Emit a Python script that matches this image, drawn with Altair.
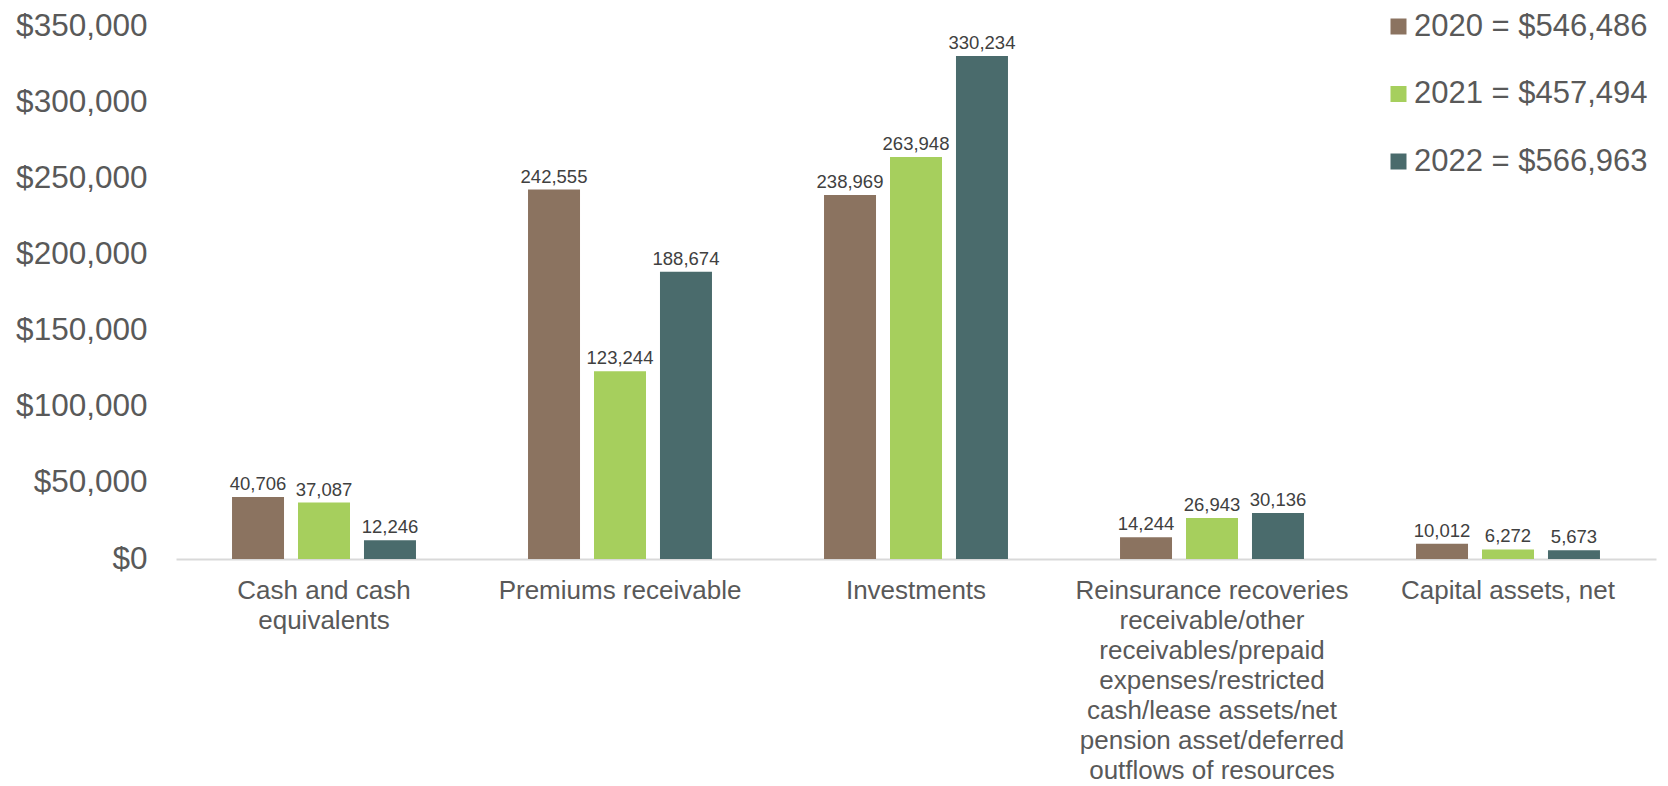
import altair as alt
import pandas as pd

categories = [
    "Cash and cash|equivalents",
    "Premiums receivable",
    "Investments",
    "Reinsurance recoveries|receivable/other|receivables/prepaid|expenses/restricted|cash/lease assets/net|pension asset/deferred|outflows of resources",
    "Capital assets, net",
]
years = ["2020", "2021", "2022"]
v2020 = [40706, 242555, 238969, 14244, 10012]
v2021 = [37087, 123244, 263948, 26943, 6272]
v2022 = [12246, 188674, 330234, 30136, 5673]
colors = ["#8B7360", "#A6CF5D", "#4A6B6C"]

series_values = [v2020, v2021, v2022]
series_labels = [f"{y} = ${sum(v):,}" for y, v in zip(years, series_values)]

rows = []
for lab, vals in zip(series_labels, series_values):
    for c, v in zip(categories, vals):
        rows.append({"category": c, "series": lab, "value": v})
df = pd.DataFrame(rows)

FONT = "Liberation Sans"

base = alt.Chart(df).encode(
    x=alt.X(
        "category:N",
        sort=categories,
        scale=alt.Scale(paddingInner=0, paddingOuter=0),
        axis=alt.Axis(
            title=None,
            labelAngle=0,
            labelExpr="split(datum.label, '|')",
            labelFontSize=26,
            labelLineHeight=30,
            labelPadding=18,
            labelLimit=0,
            labelColor="#595959",
            labelFont=FONT,
            ticks=False,
            grid=False,
            domainColor="#d9d9d9",
            domainWidth=2,
        ),
    ),
    xOffset=alt.XOffset(
        "series:N",
        sort=series_labels,
        scale=alt.Scale(paddingInner=0.212, paddingOuter=0.849),
    ),
    y=alt.Y(
        "value:Q",
        scale=alt.Scale(domain=[0, 350000], nice=False),
        axis=alt.Axis(
            title=None,
            values=[0, 50000, 100000, 150000, 200000, 250000, 300000, 350000],
            format="$,.0f",
            labelFontSize=31.5,
            labelColor="#595959",
            labelFont=FONT,
            labelPadding=29,
            grid=False,
            domain=False,
            ticks=False,
        ),
    ),
)

bars = base.mark_bar().encode(
    color=alt.Color(
        "series:N",
        sort=series_labels,
        scale=alt.Scale(domain=series_labels, range=colors),
        legend=alt.Legend(
            title=None,
            orient="none",
            legendX=1207,
            legendY=-15,
            symbolType="square",
            symbolSize=256,
            symbolStrokeWidth=0,
            labelFontSize=31,
            labelFont=FONT,
            labelColor="#595959",
            labelOffset=0,
            rowPadding=35.5,
            padding=0,
            labelLimit=0,
        ),
    )
)

labels = base.mark_text(
    baseline="alphabetic", dy=-7, fontSize=18.5, font=FONT, color="#404040"
).encode(text=alt.Text("value:Q", format=",.0f"))

chart = (
    alt.layer(bars, labels)
    .properties(
        width=1480,
        height=533,
        autosize=alt.AutoSizeParams(type="none"),
        padding={"left": 168, "top": 18, "right": 4, "bottom": 230},
    )
    .configure(font=FONT)
    .configure_view(strokeWidth=0, stroke="transparent")
)

chart.save("out.html", embed_options={"renderer": "svg", "actions": False})
